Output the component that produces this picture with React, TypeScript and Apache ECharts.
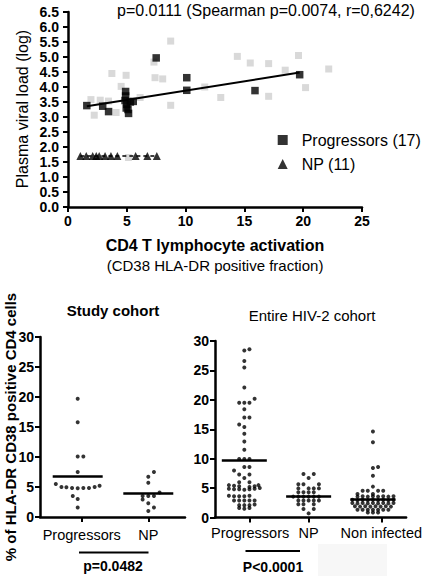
import React, { useEffect, useRef } from "react";
import * as echarts from "echarts";

const FONT = "'Liberation Sans', Arial, Helvetica, sans-serif";

// ---------- Top panel: CD4 T lymphocyte activation vs plasma viral load ----------
const progCD4 = [1.6, 2.95, 3.45, 4.9, 4.9, 4.85, 5.0, 5.1, 5.15, 5.55, 5.3, 4.95, 7.5, 10.1, 10.1, 15.9, 19.7];
const progVL = [3.38, 3.36, 3.18, 3.85, 3.7, 3.55, 3.42, 3.25, 3.12, 3.52, 3.5, 3.3, 4.97, 4.31, 3.89, 3.88, 4.41];
const npCD4 = [1.05, 1.55, 2.1, 2.4, 2.65, 3.15, 3.65, 4.2, 5.75, 6.75, 7.55];
const npVL = [1.7, 1.7, 1.7, 1.7, 1.7, 1.7, 1.7, 1.7, 1.7, 1.7, 1.7];
const otherCD4 = [8.73, 7.31, 3.73, 4.94, 7.4, 8.05, 4.52, 1.95, 2.74, 3.44, 6.13, 2.23, 4.09, 8.73, 5.14, 14.4, 15.5, 17.06, 19.6, 18.47, 22.17, 11.63, 12.99, 17.06, 20.2];
const otherVL = [5.53, 4.83, 4.45, 4.39, 4.31, 4.27, 4.02, 3.58, 3.56, 3.53, 3.65, 3.06, 3.15, 3.39, 1.65, 5.02, 4.8, 4.78, 5.05, 4.56, 4.6, 4.0, 3.65, 3.69, 3.98];
const regressionCD4 = [1.6, 19.7];
const regressionVL = [3.36, 4.48];
const npLineCD4 = [1.05, 7.55];
const npLineVL = [1.7, 1.7];
const topLegend = ["Progressors (17)", "NP (11)"];

// ---------- Bottom left: Study cohort ----------
const studyLabels = ["Progressors", "NP"];
const studyTickPos = [1.057, 2.0];
const studyProgX = [1.0, 1.0, 1.0, 1.08, 1.0, 0.69, 0.77, 0.84, 0.92, 1.0, 1.08, 1.16, 1.24, 1.31, 0.93, 1.0, 1.0];
const studyProgY = [19.7, 15.8, 10.1, 10.1, 7.5, 5.5, 5.0, 4.95, 4.85, 4.8, 4.85, 4.85, 5.0, 5.2, 3.5, 3.0, 1.6];
const studyNPX = [2.08, 2.0, 2.0, 2.16, 1.92, 2.0, 2.08, 1.92, 2.0, 2.08, 2.0];
const studyNPY = [7.5, 6.7, 5.7, 4.1, 3.5, 3.5, 3.5, 2.9, 2.3, 1.6, 1.0];
const studyMedians = [6.86, 3.9];

// ---------- Bottom right: Entire HIV-2 cohort ----------
const entireLabels = ["Progressors", "NP", "Non infected"];
const entireTickPos = [1.091, 2.0, 3.13];
const entireProgX = [
  1.0, 1.08, 1.0, 1.0, 1.0, 0.92, 1.0, 1.08, 1.16, 1.0, 1.0, 1.08, 0.92, 1.0, 1.0, 1.0, 1.0,
  0.92, 1.0, 1.08,
  1.0, 1.08, 0.84, 0.92, 1.08, 1.0, 0.92, 1.08,
  0.76, 0.84, 0.92, 1.08, 1.16, 1.22,
  0.76, 0.84, 0.92, 1.0, 1.08, 1.16, 1.24,
  0.76, 0.84, 0.92, 1.0, 1.08,
  0.84, 0.92, 1.0, 1.08, 1.16,
  0.92, 1.0, 1.08, 1.16,
  0.92, 1.0, 1.08,
];
const entireProgY = [
  28.4, 28.6, 26.6, 25.5, 22.1, 19.5, 19.5, 19.5, 20.2, 18.4, 17.0, 17.0, 15.8, 15.4, 14.25, 12.9, 11.5,
  9.95, 9.95, 9.95,
  8.6, 8.6, 8.0, 7.3, 7.3, 6.7, 6.0, 6.0,
  5.5, 5.4, 5.3, 5.2, 5.3, 5.5,
  4.9, 4.8, 4.8, 4.7, 4.8, 4.9, 5.0,
  3.7, 3.6, 3.6, 3.6, 3.7,
  2.9, 2.9, 2.9, 2.9, 2.9,
  2.1, 2.1, 2.1, 2.2,
  1.6, 1.5, 1.6,
];
const entireNPX = [
  1.92, 2.08, 2.0,
  1.84, 1.92, 2.16,
  1.84, 2.0, 2.08, 2.16,
  1.84, 1.92, 2.0, 2.08,
  1.76, 1.84, 1.92, 2.0, 2.08, 2.16,
  1.84, 1.92, 2.0, 2.08, 2.16,
  1.84, 1.92, 2.08,
  1.92, 2.08,
  2.0,
];
const entireNPY = [
  7.4, 7.4, 6.7,
  5.65, 5.65, 5.65,
  4.95, 4.95, 4.95, 4.95,
  4.3, 4.3, 4.3, 4.3,
  3.55, 3.55, 3.55, 3.55, 3.55, 3.55,
  2.9, 2.9, 2.9, 2.9, 2.9,
  2.25, 2.25, 2.25,
  1.45, 1.45,
  0.7,
];
const entireNIX = [
  3.0, 3.0, 3.08, 3.0, 3.0, 3.0,
  2.84, 2.92, 3.08, 3.16, 2.76, 3.0,
  2.76, 2.84, 2.92, 3.0, 3.08, 3.16, 3.24, 3.32,
  2.68, 2.76, 2.84, 2.92, 3.0, 3.08, 3.16, 3.24, 3.32,
  2.68, 2.76, 2.84, 2.92, 3.0, 3.08, 3.16, 3.24, 3.32,
  2.72, 2.8, 2.88, 2.96, 3.04, 3.12, 3.2, 3.28,
  2.76, 2.84, 2.92, 3.0, 3.08, 3.16, 3.24,
  2.92, 3.0, 3.08,
];
const entireNIY = [
  14.6, 12.8, 8.6, 8.4, 7.1, 5.25,
  4.55, 4.55, 4.55, 4.55, 4.0, 4.0,
  3.55, 3.6, 3.55, 3.6, 3.55, 3.6, 3.55, 3.6,
  3.0, 2.95, 3.0, 2.95, 3.0, 2.95, 3.0, 2.95, 3.0,
  2.45, 2.4, 2.45, 2.4, 2.45, 2.4, 2.45, 2.4, 2.45,
  1.9, 1.85, 1.9, 1.85, 1.9, 1.85, 1.9, 1.85,
  1.3, 1.3, 1.3, 1.3, 1.3, 1.3, 1.3,
  0.85, 0.85, 0.85,
];
const entireMedians = [9.66, 3.66, 3.1];

const zip = (xs: number[], ys: number[]) => xs.map((x, i) => [x, ys[i]]);

const medianLines = (medians: number[], half: number) =>
  medians.map((m, i) => [
    { coord: [i + 1 - half, m] },
    { coord: [i + 1 + half, m] },
  ]);

const labelFor = (positions: number[], labels: string[]) => (v: number) => {
  const i = positions.findIndex((p) => Math.abs(p - v) < 1e-6);
  return i >= 0 ? labels[i] : "";
};

const BLACK = "#000";
const boldLabel = () => ({ color: BLACK, fontFamily: FONT, fontWeight: 700, fontSize: 14 });
const axisLineStyle = () => ({ show: true, lineStyle: { color: BLACK, width: 2.5 } });
const tickStyle = () => ({ show: true, length: 5, lineStyle: { color: BLACK, width: 2 } });

export default function App() {
  const ref = useRef<HTMLDivElement>(null);
  useEffect(() => {
    if (!ref.current) return;
    const chart = echarts.init(ref.current, undefined, { renderer: "svg" });
    const option: any = {
      animation: false,
      backgroundColor: "#fff",
      grid: [
        { left: 68, top: 12, width: 294, height: 195 },
        { left: 40, top: 337, width: 145, height: 180 },
        { left: 215, top: 341, width: 196, height: 176.5 },
      ],
      legend: {
        orient: "vertical",
        left: 277.7,
        top: 132,
        padding: 0,
        itemWidth: 10,
        itemHeight: 10,
        itemGap: 8,
        selectedMode: false,
        textStyle: { fontSize: 16, color: BLACK, fontFamily: FONT, padding: [0, 0, 0, 9] },
        data: [
          { name: topLegend[0], icon: "rect" },
          { name: topLegend[1], icon: "triangle" },
        ],
      },
      xAxis: [
        {
          gridIndex: 0, type: "value", min: 0, max: 25, interval: 5,
          axisLine: axisLineStyle(), axisTick: tickStyle(),
          axisLabel: { ...boldLabel(), margin: 7 },
          splitLine: { show: false },
        },
        {
          gridIndex: 1, type: "value", min: 0.466, max: 2.52,
          axisLine: axisLineStyle(),
          axisTick: { ...tickStyle(), customValues: studyTickPos },
          axisLabel: {
            customValues: studyTickPos, color: BLACK, fontFamily: FONT, fontSize: 14.5, margin: 10,
            formatter: labelFor(studyTickPos, studyLabels),
          },
          splitLine: { show: false },
        },
        {
          gridIndex: 2, type: "value", min: 0.544, max: 3.516,
          axisLine: axisLineStyle(),
          axisTick: { ...tickStyle(), customValues: entireTickPos },
          axisLabel: {
            customValues: entireTickPos, color: BLACK, fontFamily: FONT, fontSize: 14.5, margin: 8,
            formatter: labelFor(entireTickPos, entireLabels),
          },
          splitLine: { show: false },
        },
      ],
      yAxis: [
        {
          gridIndex: 0, type: "value", min: 0, max: 6.5, interval: 0.5,
          axisLine: axisLineStyle(), axisTick: tickStyle(),
          axisLabel: { ...boldLabel(), margin: 9, formatter: (v: number) => v.toFixed(1) },
          splitLine: { show: false },
        },
        {
          gridIndex: 1, type: "value", min: 0, max: 30, interval: 5,
          axisLine: axisLineStyle(), axisTick: tickStyle(),
          axisLabel: { ...boldLabel(), margin: 6 },
          splitLine: { show: false },
        },
        {
          gridIndex: 2, type: "value", min: 0, max: 30, interval: 5,
          axisLine: axisLineStyle(), axisTick: tickStyle(),
          axisLabel: { ...boldLabel(), margin: 6 },
          splitLine: { show: false },
        },
      ],
      series: [
        {
          name: "Others", type: "scatter", xAxisIndex: 0, yAxisIndex: 0, z: 1,
          symbol: "rect", symbolSize: 7, itemStyle: { color: "#cfcfcf" },
          data: zip(otherCD4, otherVL),
        },
        {
          name: "regression", type: "line", xAxisIndex: 0, yAxisIndex: 0, z: 2,
          symbol: "none", lineStyle: { color: BLACK, width: 2 },
          data: zip(regressionCD4, regressionVL),
        },
        {
          name: "np line", type: "line", xAxisIndex: 0, yAxisIndex: 0, z: 2,
          symbol: "none", lineStyle: { color: BLACK, width: 1.5, type: [4, 3] },
          data: zip(npLineCD4, npLineVL),
        },
        {
          name: topLegend[0], type: "scatter", xAxisIndex: 0, yAxisIndex: 0, z: 3,
          symbol: "rect", symbolSize: 7.5, itemStyle: { color: BLACK },
          data: zip(progCD4, progVL),
        },
        {
          name: topLegend[1], type: "scatter", xAxisIndex: 0, yAxisIndex: 0, z: 3,
          symbol: "triangle", symbolSize: 8, itemStyle: { color: BLACK },
          data: zip(npCD4, npVL),
        },
        {
          name: "Study progressors", type: "scatter", xAxisIndex: 1, yAxisIndex: 1,
          symbol: "circle", symbolSize: 4, itemStyle: { color: BLACK },
          data: zip(studyProgX, studyProgY),
          markLine: {
            silent: true, symbol: ["none", "none"], label: { show: false },
            lineStyle: { color: BLACK, width: 2.5, type: "solid" },
            data: medianLines(studyMedians, 0.354),
          },
        },
        {
          name: "Study NP", type: "scatter", xAxisIndex: 1, yAxisIndex: 1,
          symbol: "circle", symbolSize: 4, itemStyle: { color: BLACK },
          data: zip(studyNPX, studyNPY),
        },
        {
          name: "Entire progressors", type: "scatter", xAxisIndex: 2, yAxisIndex: 2,
          symbol: "circle", symbolSize: 4, itemStyle: { color: BLACK },
          data: zip(entireProgX, entireProgY),
          markLine: {
            silent: true, symbol: ["none", "none"], label: { show: false },
            lineStyle: { color: BLACK, width: 2.5, type: "solid" },
            data: medianLines(entireMedians, 0.35),
          },
        },
        {
          name: "Entire NP", type: "scatter", xAxisIndex: 2, yAxisIndex: 2,
          symbol: "circle", symbolSize: 4, itemStyle: { color: BLACK },
          data: zip(entireNPX, entireNPY),
        },
        {
          name: "Entire non infected", type: "scatter", xAxisIndex: 2, yAxisIndex: 2,
          symbol: "circle", symbolSize: 4, itemStyle: { color: BLACK },
          data: zip(entireNIX, entireNIY),
        },
      ],
      graphic: [
        {
          type: "text", left: 117, top: 2,
          style: { text: "p=0.0111 (Spearman p=0.0074, r=0,6242)", fontSize: 16, fontFamily: FONT, fill: BLACK },
        },
        {
          type: "text", x: 22, y: 109, rotation: Math.PI / 2,
          style: { text: "Plasma viral load (log)", fontSize: 16, fontFamily: FONT, fill: BLACK, align: "center", verticalAlign: "middle" },
        },
        {
          type: "text", x: 215, y: 245,
          style: { text: "CD4 T lymphocyte activation", fontSize: 16, fontWeight: "bold", fontFamily: FONT, fill: BLACK, align: "center", verticalAlign: "middle" },
        },
        {
          type: "text", x: 215, y: 265,
          style: { text: "(CD38 HLA-DR positive fraction)", fontSize: 15, fontFamily: FONT, fill: BLACK, align: "center", verticalAlign: "middle" },
        },
        {
          type: "text", x: 10, y: 427, rotation: Math.PI / 2,
          style: { text: "% of HLA-DR CD38 positive CD4 cells", fontSize: 15, fontWeight: "bold", fontFamily: FONT, fill: BLACK, align: "center", verticalAlign: "middle" },
        },
        {
          type: "text", x: 113, y: 310,
          style: { text: "Study cohort", fontSize: 15, fontWeight: "bold", fontFamily: FONT, fill: BLACK, align: "center", verticalAlign: "middle" },
        },
        {
          type: "text", x: 312, y: 315,
          style: { text: "Entire HIV-2 cohort", fontSize: 15, fontFamily: FONT, fill: BLACK, align: "center", verticalAlign: "middle" },
        },
        {
          type: "line", shape: { x1: 79, y1: 552.5, x2: 148.5, y2: 552.5 },
          style: { stroke: BLACK, lineWidth: 2 },
        },
        {
          type: "text", x: 113, y: 566,
          style: { text: "p=0.0482", fontSize: 14, fontWeight: "bold", fontFamily: FONT, fill: BLACK, align: "center", verticalAlign: "middle" },
        },
        {
          type: "rect", shape: { x: 318, y: 544, width: 69, height: 32 },
          style: { fill: "#f7f7f7" }, z: -1,
        },
        {
          type: "line", shape: { x1: 245.5, y1: 551, x2: 300, y2: 551 },
          style: { stroke: BLACK, lineWidth: 2 },
        },
        {
          type: "text", x: 273, y: 567,
          style: { text: "P<0.0001", fontSize: 14, fontWeight: "bold", fontFamily: FONT, fill: BLACK, align: "center", verticalAlign: "middle" },
        },
      ],
    };
    chart.setOption(option);
    return () => chart.dispose();
  }, []);
  return (
    <div
      ref={ref}
      style={{ position: "fixed", left: 0, top: 0, width: 425, height: 576, background: "#fff" }}
    />
  );
}
